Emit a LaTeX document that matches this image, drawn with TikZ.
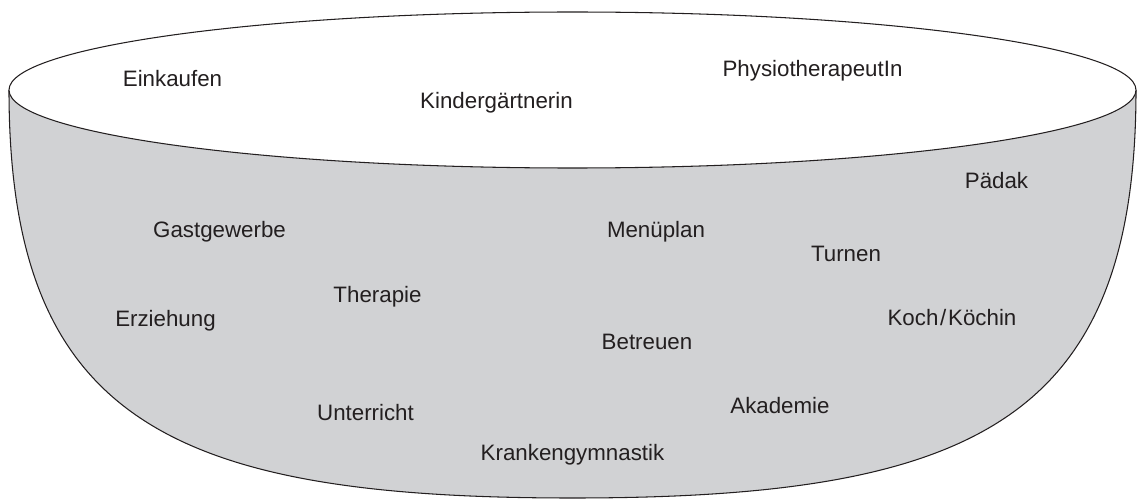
\documentclass[tikz,border=0pt]{standalone}
\usepackage{fontspec}
\setmainfont{Liberation Sans}
\usepackage{xcolor}
\definecolor{bowl-grey}{HTML}{D1D2D4}
\definecolor{word-ink}{HTML}{231F20}
\begin{document}
\begin{tikzpicture}[x=0.02cm, y=-0.02cm,
        every node/.style={font=\fontsize{12.7}{15}\selectfont},
        word/.style={text=word-ink, anchor=base, inner sep=0pt}]
      \useasboundingbox (0,0) rectangle (1137,500);
      % bowl body, the rim covers its top
      \fill[bowl-grey] (9,90) .. controls (9,420) and (170,498) .. (572.5,498)
            .. controls (975,498) and (1136,420) .. (1136,90) -- cycle;
      \draw[line width=0.6pt, word-ink] (9,90) .. controls (9,420) and (170,498) .. (572.5,498)
            .. controls (975,498) and (1136,420) .. (1136,90);
      \draw[line width=0.6pt, word-ink, fill=white] (572.5,90) ellipse [x radius=563.5, y radius=78];
      % words on the rim
      \node[word] (EINK) at (172.5,87) {Einkaufen};
      \node[word] (KIND) at (496.5,109) {Kindergärtnerin};
      \node[word] (PHYS) at (812.5,77) {PhysiotherapeutIn};
      % words in the bowl
      \node[word] (PAED) at (996.5,189) {Pädak};
      \node[word] (GAST) at (219.5,237) {Gastgewerbe};
      \node[word] (MENU) at (656,237) {Menüplan};
      \node[word] (TURN) at (846,261) {Turnen};
      \node[word] (THER) at (377.5,302) {Therapie};
      \node[word] (ERZ) at (165.5,326) {Erziehung};
      \node[word] (KOCH) at (952,325) {Koch\kern1pt/\kern1pt Köchin};
      \node[word] (BETR) at (647,349) {Betreuen};
      \node[word] (AKAD) at (780,413) {Akademie};
      \node[word] (UNT) at (365.5,420) {Unterricht};
      \node[word] (KRANK) at (572.5,460) {Krankengymnastik};
    \end{tikzpicture}
\end{document}
